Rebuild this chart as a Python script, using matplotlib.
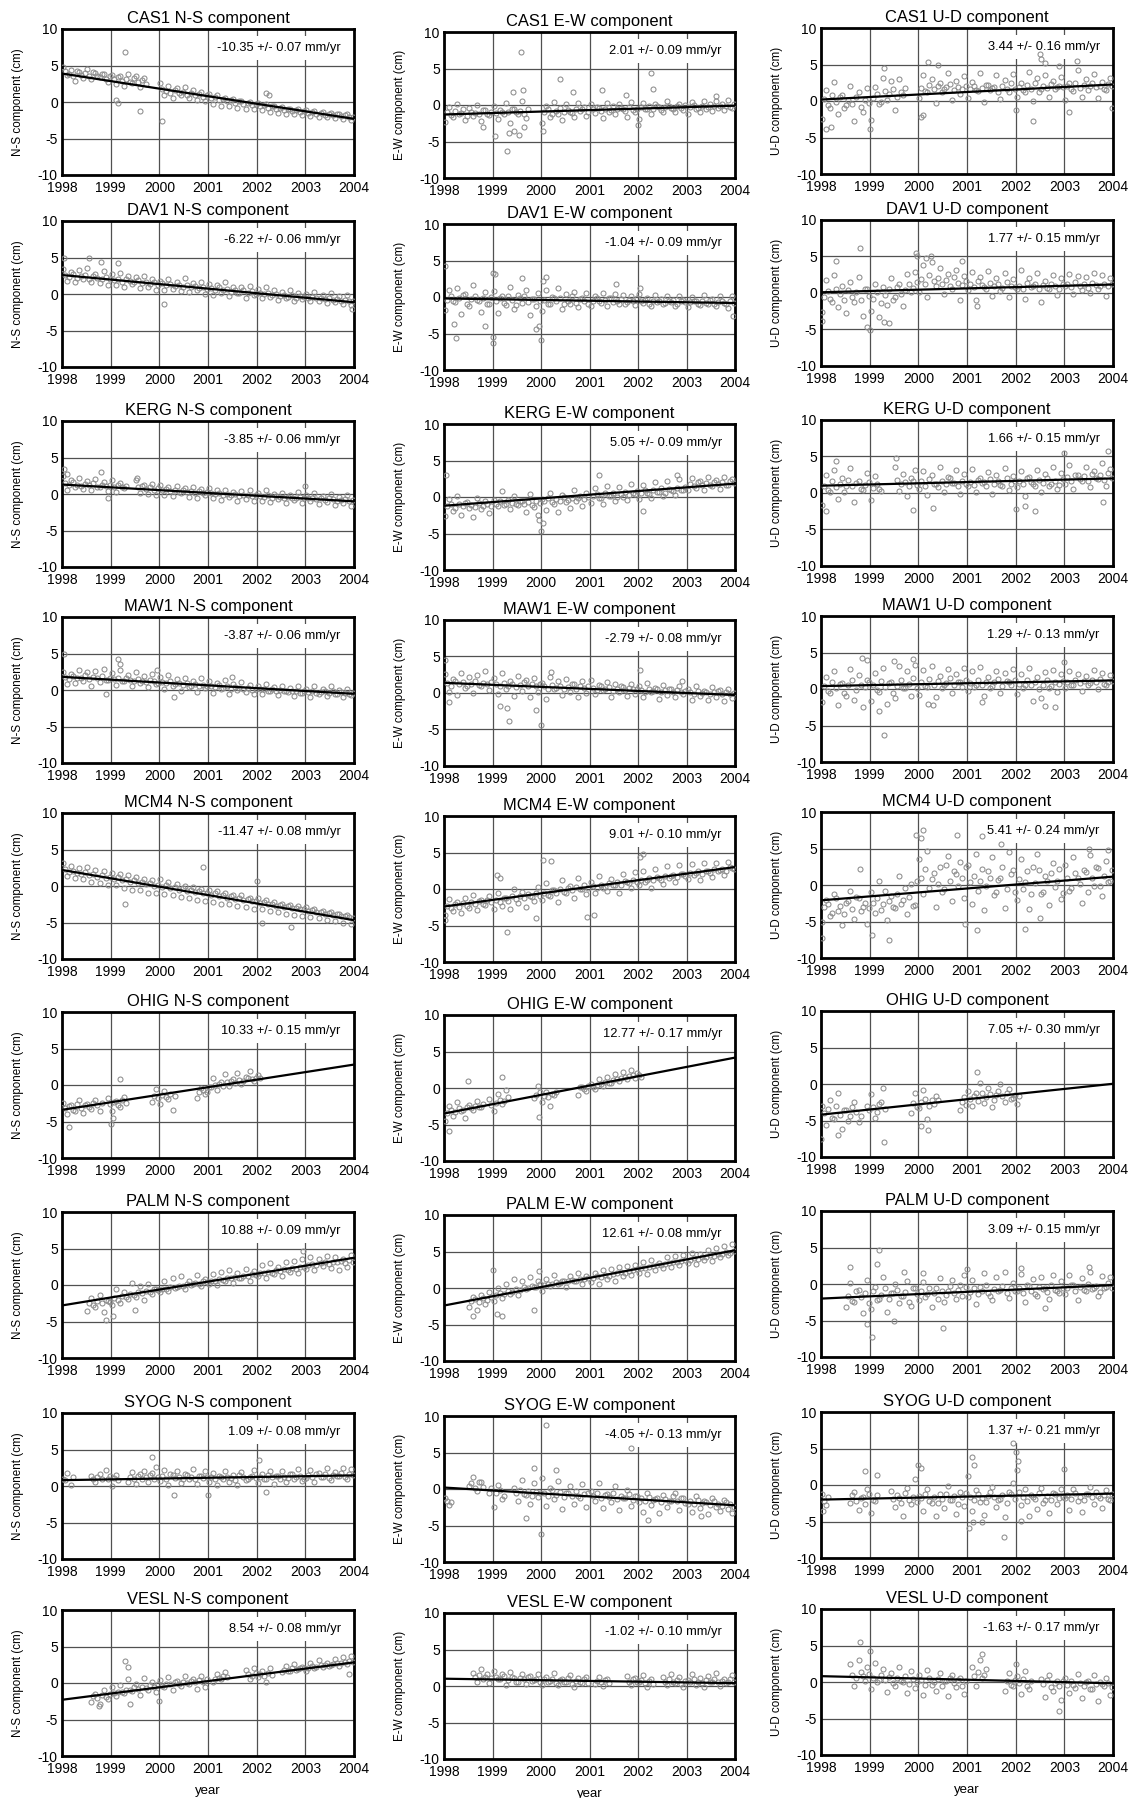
import numpy as np
import matplotlib
matplotlib.use("Agg")
import matplotlib.pyplot as plt

_ = np.nan

stations = ["CAS1", "DAV1", "KERG", "MAW1", "MCM4", "OHIG", "PALM", "SYOG", "VESL"]
components = ["N-S", "E-W", "U-D"]
years = [1998, 1999, 2000, 2001, 2002, 2003, 2004]

# velocidad (mm/yr) y error, por estacion: N-S, E-W, U-D
rates = [
    [-10.35, 2.01, 3.44],
    [-6.22, -1.04, 1.77],
    [-3.85, 5.05, 1.66],
    [-3.87, -2.79, 1.29],
    [-11.47, 9.01, 5.41],
    [10.33, 12.77, 7.05],
    [10.88, 12.61, 3.09],
    [1.09, -4.05, 1.37],
    [8.54, -1.02, -1.63],
]
errors = [
    [0.07, 0.09, 0.16],
    [0.06, 0.09, 0.15],
    [0.06, 0.09, 0.15],
    [0.06, 0.08, 0.13],
    [0.08, 0.10, 0.24],
    [0.15, 0.17, 0.30],
    [0.09, 0.08, 0.15],
    [0.08, 0.13, 0.21],
    [0.08, 0.10, 0.17],
]
# valor de la recta de tendencia en 1998.0 (cm)
line_1998 = [
    [3.9, -1.3, 0.2],
    [2.6, -0.2, 0.1],
    [1.3, -1.2, 1.0],
    [1.8, 1.4, 0.4],
    [2.2, -2.4, -2.1],
    [-3.4, -3.5, -4.2],
    [-2.8, -2.4, -2.0],
    [0.8, 0.2, -2.0],
    [-2.3, 1.0, 0.8],
]

# posiciones (cm) a inicio de cada mes, una fila por anio 1998..2003
cas1_ns = [
    4.8, 3.7, 4.4, 2.9, 4.1, 3.3, 4.5, 3.1, 4.0, 3.4, 3.8, 2.8,
    3.7, 2.5, 3.6, 2.2, 3.9, 2.6, 3.5, 2.1, 3.3, _, _, _,
    2.6, 0.9, 2.2, 0.6, 1.9, 1.0, 2.1, 0.5, 1.6, 0.3, 1.4, 0.2,
    1.1, -0.3, 0.9, -0.5, 0.6, -0.6, 0.4, -0.8, 0.2, -0.9, 0.0, -1.0,
    -0.2, -1.1, -0.3, -1.4, -0.5, -1.5, -0.7, -1.6, -0.9, -1.7, -1.0, -1.8,
    -1.1, -1.9, -1.3, -2.0, -1.4, -2.1, -1.5, -2.2, -1.6, -2.3, -1.7, -2.4,
]
cas1_ew = [
    -2.3, -0.3, -1.7, 0.2, -1.1, -2.0, -0.4, -1.5, 0.0, -2.2, -0.7, -1.4,
    -0.2, -1.9, -0.9, 0.3, -2.4, -0.6, -1.3, 0.5, -1.8, _, _, _,
    -2.4, -0.2, -1.6, 0.4, -1.2, -2.0, 0.1, -0.9, -1.7, 0.3, -0.6, -1.5,
    0.2, -1.1, -0.4, -1.8, 0.3, -0.7, -1.3, 0.1, -0.5, -1.6, 0.4, -0.9,
    -1.9, 0.3, -0.6, -1.2, 0.2, -0.3, -1.0, 0.5, -0.4, -0.9, 0.2, -0.7,
    -1.2, 0.4, -0.5, -0.9, 0.6, -0.3, -0.8, 0.5, -0.2, -0.7, 0.7, -0.4,
]
cas1_ud = [
    -2.5, 1.5, -1.0, 2.6, -1.8, 0.8, -0.5, 2.0, -2.8, 1.2, -1.5, 1.8,
    -2.6, 1.9, -0.4, 3.2, 0.2, 2.8, -1.2, 3.0, 0.8, _, _, _,
    0.4, 3.6, 1.2, 3.0, -0.3, 2.4, 1.6, 3.8, 0.2, 2.7, 1.0, 3.4,
    0.4, 2.6, 1.5, 3.9, -0.2, 2.2, 1.8, 3.5, 0.3, 2.9, 1.2, 3.7,
    0.6, 2.5, 1.3, 4.0, 0.0, 3.1, 1.6, 3.6, 0.5, 2.8, 1.9, 3.3,
    0.2, 2.4, 1.4, 4.2, 0.6, 3.0, 2.0, 3.7, 0.4, 2.6, 1.5, 3.1,
]
dav1_ns = [
    3.4, 1.8, 3.0, 1.6, 3.3, 2.0, 3.5, 1.7, 2.8, 1.5, 3.1, 1.3,
    2.7, 1.2, 2.9, 1.0, 2.5, 1.4, 2.3, 0.8, 2.4, 0.9, 2.0, 0.6,
    1.8, 0.5, 2.1, 0.7, 1.6, 0.4, 2.2, 0.3, 1.5, 0.6, 1.7, 0.0,
    1.4, -0.1, 1.2, 0.2, 1.6, -0.3, 1.0, 0.1, 0.9, -0.5, 1.1, -0.2,
    0.7, -0.6, 0.9, -0.4, 0.5, -0.8, 0.3, -0.5, 0.6, -0.9, 0.2, -0.7,
    0.0, -1.0, 0.3, -0.9, -0.2, -1.2, 0.1, -1.1, -0.3, -1.4, -0.1, -1.5,
]
dav1_ew = [
    -1.8, 0.9, -0.6, 1.3, -2.3, 0.4, -1.2, 1.6, -0.4, -2.0, 0.7, -1.0,
    0.8, -2.2, 0.2, -1.1, 1.4, -1.7, 0.3, -0.8, 1.0, -2.4, -0.3, 0.6,
    -1.9, 0.9, -1.0, -0.2, 1.2, -1.6, 0.4, -0.9, 0.7, -1.4, -0.1, 0.5,
    -1.3, 0.2, -0.6, 0.6, -1.2, -0.1, 0.4, -1.0, 0.3, -0.7, 0.1, -1.1,
    0.4, -0.8, -0.2, -1.3, 0.3, -0.5, -1.0, 0.2, -0.7, -1.2, 0.1, -0.4,
    -1.4, 0.0, -0.6, -1.1, 0.3, -0.9, -0.3, -1.3, 0.2, -0.8, -1.5, 0.1,
]
dav1_ud = [
    -2.6, 1.8, -0.8, 2.4, -1.9, 0.9, -2.8, 1.5, -1.2, 2.2, -3.2, 0.6,
    -2.4, 1.2, -3.3, 0.8, -1.6, 2.0, -0.5, 1.3, -1.8, 2.6, 0.1, 2.9,
    0.2, 3.8, -0.6, 4.2, 1.0, 3.4, -0.2, 2.6, 0.6, 3.1, -0.9, 2.3,
    0.4, 2.9, -1.0, 2.2, 0.8, 3.0, -0.4, 2.0, 0.3, 2.7, -0.6, 1.9,
    0.5, 3.2, -0.8, 2.1, 1.0, 2.8, -1.2, 1.6, 0.6, 2.5, -0.3, 2.0,
    0.9, 2.6, -0.2, 2.3, 0.4, 2.2, 0.0, 2.7, 0.5, 2.4, -0.4, 2.1,
]
kerg_ns = [
    2.4, 0.6, 1.9, 0.9, 2.2, 0.7, 1.8, 0.5, 2.0, 1.0, 1.6, 0.4,
    1.9, 0.3, 1.5, 0.8, _, _, 1.9, 0.2, 1.3, 0.0, 1.4, -0.2,
    1.2, -0.1, 0.9, -0.3, 1.1, 0.1, 0.8, -0.4, 1.0, -0.5, 0.7, -0.2,
    0.8, -0.6, 0.5, -0.8, 0.6, -0.4, 0.3, -0.9, 0.4, -0.7, 0.6, -1.0,
    0.2, -0.9, 0.5, -1.1, 0.0, -0.7, 0.1, -1.2, -0.1, -0.8, 0.3, -1.3,
    -0.2, -1.0, 0.1, -1.4, -0.3, -1.1, 0.0, -1.5, -0.4, -1.2, -0.1, -1.6,
]
kerg_ew = [
    -2.6, -0.3, -1.9, 0.1, -2.4, -0.8, -1.5, -2.8, -0.2, -1.7, -0.6, -2.2,
    -0.4, -1.3, 0.8, -0.9, -1.6, 0.2, -1.1, -0.5, -2.0, 0.4, -1.4, -2.5,
    -0.3, -1.8, 0.6, -1.0, -2.1, 0.3, -0.7, -1.5, 0.9, -0.2, -1.2, 0.5,
    -0.8, 1.2, -0.1, -0.9, 1.5, 0.2, -0.6, 1.4, 0.0, -0.4, 1.8, 0.4,
    -0.3, 1.6, 0.5, -0.2, 2.0, 0.7, 0.1, 2.2, 0.9, 0.3, 2.4, 1.0,
    0.9, 2.6, 1.3, 2.2, 1.0, 2.7, 1.5, 2.3, 1.1, 2.8, 1.6, 2.5,
]
kerg_ud = [
    -1.6, 2.5, 0.2, 3.1, -0.8, 2.0, 1.0, 3.4, -1.2, 1.6, 0.4, 2.8,
    -0.9, 2.3, 0.5, _, _, _, 3.6, 0.3, 2.6, -0.4, 2.0, 3.2,
    0.6, 3.0, -0.3, 2.4, 1.2, 3.5, 0.1, 2.2, 1.4, 3.1, -0.2, 2.6,
    0.9, 3.3, 0.2, 2.0, 1.5, 2.9, -0.1, 2.5, 1.1, 3.4, 0.4, 2.3,
    0.8, 3.0, -0.4, 2.2, 1.3, 3.2, 0.2, 2.6, 1.0, 3.6, 0.5, 2.7,
    1.2, 3.8, 0.6, 2.5, 1.7, 3.5, 0.8, 3.0, 1.9, 4.1, 1.0, 3.3,
]
maw1_ns = [
    2.5, 0.8, 2.2, 1.0, 2.8, 1.3, 2.4, 0.6, 2.6, 1.1, 2.9, 1.4,
    2.3, 0.7, 2.7, 1.2, 2.0, 0.5, 2.4, 0.9, 1.9, 0.4, 2.2, 0.8,
    1.8, 0.2, 2.1, 0.6, 1.5, -0.1, 1.7, 0.4, 1.3, -0.3, 1.6, 0.3,
    1.2, -0.4, 1.0, 0.1, 1.4, -0.5, 0.8, 0.0, 1.1, -0.3, 0.7, -0.6,
    0.6, -0.5, 0.8, -0.2, 0.4, -0.7, 0.6, -0.1, 0.3, -0.8, 0.5, -0.4,
    0.2, -0.9, 0.5, -0.6, 0.1, -0.8, 0.6, -0.5, 0.0, -1.0, 0.2, -0.7,
]
maw1_ew = [
    2.6, 0.2, 1.9, -0.3, 2.8, 0.7, 2.2, 0.0, 2.5, 1.0, 3.0, 0.4,
    2.1, -0.2, 2.7, 0.6, 1.6, -0.4, 2.3, 0.3, 1.8, -0.6, 2.0, 0.1,
    1.4, -0.8, 2.2, 0.5, 1.7, -0.3, 1.9, 0.2, 1.3, -0.5, 1.6, 0.0,
    1.8, -0.2, 1.1, 0.4, 1.5, -0.6, 1.2, 0.1, 0.8, -0.4, 1.3, -0.1,
    1.0, -0.5, 1.4, 0.2, 0.7, -0.8, 1.1, -0.3, 0.6, -0.6, 0.9, -0.2,
    0.5, -0.9, 1.0, -0.4, 0.3, -1.0, 0.8, -0.6, 0.4, -1.1, 0.6, -0.7,
]
maw1_ud = [
    -1.8, 1.6, -0.6, 2.5, -2.2, 0.8, -1.0, 2.8, -1.5, 1.9, -2.4, 1.2,
    -1.7, 2.2, -0.4, 2.9, -2.1, 1.0, -1.2, 3.1, 0.2, 2.4, -0.9, 3.3,
    -0.8, 2.6, 0.3, 3.2, -1.1, 1.8, 0.5, 2.7, -0.6, 2.0, 0.9, 2.9,
    -0.3, 2.4, 0.6, 3.0, -0.9, 1.6, 0.4, 2.5, -0.5, 2.2, 1.0, 2.8,
    -0.7, 2.1, 0.5, 2.9, -1.6, 1.7, -1.2, 2.3, 0.1, 2.6, -0.4, 2.0,
    0.2, 2.4, 0.6, 2.1, -0.3, 1.8, 0.8, 2.6, 0.0, 2.2, 0.5, 1.9,
]
mcm4_ns = [
    3.1, 1.4, 2.8, 1.1, 2.5, 0.9, 2.6, 0.6, 2.2, 0.4, 2.0, 0.2,
    1.8, 0.1, 1.6, -0.3, 1.5, -0.5, 1.2, -0.6, 1.0, -0.9, 0.8, -1.0,
    0.9, -1.1, 0.5, -1.3, 0.3, -1.5, 0.0, -1.7, -0.2, -1.9, -0.4, -2.0,
    -0.5, -2.2, -0.7, -2.4, -0.9, -2.5, -1.2, -2.7, -1.3, -2.9, -1.6, -3.1,
    -1.7, -3.2, -1.9, -3.4, -2.2, -3.6, -2.4, -3.8, -2.6, -4.0, -2.8, -4.1,
    -2.9, -4.2, -3.1, -4.4, -3.4, -4.6, -3.6, -4.8, -3.8, -5.0, -4.0, -5.2,
]
mcm4_ew = [
    -3.5, -1.4, -3.0, -1.8, -3.3, -1.2, -2.6, -0.8, -2.9, -1.5, -2.2, -0.9,
    -2.7, -0.6, -2.3, -1.3, -2.8, 0.0, -1.9, -0.4, -2.5, -0.9, -1.6, 0.3,
    -1.5, 0.8, -1.0, -0.2, -1.8, 1.2, -0.5, 0.4, -1.2, 1.5, 0.0, -0.7,
    1.0, -0.6, 1.8, 0.2, -0.3, 1.4, 0.6, -0.5, 2.0, 0.9, 0.1, 2.3,
    0.6, 2.4, 1.2, 0.2, 2.8, 1.5, 0.7, 3.1, 1.8, 1.0, 3.3, 2.0,
    1.4, 3.4, 2.2, 1.3, 3.5, 2.5, 1.7, 3.6, 2.6, 1.9, 3.7, 2.9,
]
mcm4_ud = [
    -5.0, -2.0, -4.2, -1.2, -3.5, -5.5, -2.4, -0.8, -4.6, -1.8, -3.0, -5.3,
    -1.0, -3.8, 0.5, -2.6, -4.8, -1.5, -3.2, 1.2, -2.0, -4.0, 0.2, -2.8,
    3.5, -1.2, 4.6, 0.8, -3.0, 2.4, -0.6, 4.0, -2.2, 1.5, 3.2, -1.8,
    2.8, -2.6, 4.3, 0.5, -3.4, 1.9, 3.8, -1.0, 0.9, -3.1, 4.5, 2.0,
    -2.0, 3.6, 0.4, -3.3, 2.5, 4.2, -1.3, 1.2, -2.8, 3.0, 0.6, -1.9,
    2.7, -0.8, 3.9, 0.9, -2.4, 1.8, 4.1, -0.2, 2.3, -1.5, 3.3, 0.6,
]
ohig_ns = [
    -2.4, -4.0, -2.8, -3.5, -2.1, -3.9, -2.6, -3.3, -2.0, -3.6, _, -1.8,
    -3.5, -2.2, -3.0, -1.6, _, _, _, _, _, _, -2.3, -0.6,
    -2.6, -0.8, -1.9, -3.4, _, _, _, _, _, -1.8, -0.4, -1.2,
    -0.3, 0.9, -0.7, 0.4, 1.5, -0.1, 0.8, 1.7, 0.2, 1.1, 1.9, 0.5,
    1.4, _, _, _, _, _, _, _, _, _, _, _,
] + [_] * 12
ohig_ew = [
    -4.5, -2.5, -3.8, -1.9, -3.2, -4.1, -2.3, -3.0, -1.8, -2.6, _, -1.5,
    -3.2, -0.8, -2.2, -0.3, _, _, _, _, _, _, -1.4, 0.3,
    -1.9, -0.5, -2.4, -1.0, _, _, _, _, _, -0.9, 0.1, -0.4,
    0.5, -0.2, 1.2, 0.3, 1.5, 0.7, 1.9, 1.0, 2.2, 1.3, 2.5, 1.4,
    1.8, _, _, _, _, _, _, _, _, _, _, _,
] + [_] * 12
ohig_ud = [
    -3.0, -5.6, -2.2, -4.8, -1.2, -6.2, -3.6, -4.4, -2.4, -5.2, _, -3.0,
    -1.4, -4.6, -2.8, -0.6, _, _, _, _, _, _, -4.0, -1.2,
    -3.3, -0.8, -4.8, -2.2, -1.6, _, _, _, _, _, -3.5, -1.8,
    -0.9, -3.0, -1.2, 0.2, -2.6, -0.5, -3.2, -1.5, 0.0, -2.4, -0.7, -1.9,
    -2.8, _, _, _, _, _, _, _, _, _, _, _,
] + [_] * 12
palm_ns = [
    _, _, _, _, _, _, -3.5, -1.8, -3.0, -1.4, -3.7, -2.2,
    -2.8, -0.5, -2.4, -0.9, -1.9, 0.3, -1.6, -0.2, -2.0, 0.1, -1.2, -0.5,
    -1.0, 0.5, -0.8, 0.9, -0.3, 1.2, -0.5, 0.6, 0.1, 1.4, -0.2, 0.8,
    0.2, 1.5, 0.0, 1.8, 0.5, 2.0, 0.3, 1.6, 0.9, 2.2, 0.6, 1.9,
    1.2, 2.8, 1.0, 3.0, 1.5, 2.5, 1.3, 3.1, 1.8, 3.3, 1.6, 3.6,
    2.2, 3.8, 2.0, 3.5, 2.6, 4.0, 2.3, 3.9, 2.1, 3.6, 2.5, 4.1,
]
palm_ew = [
    _, _, _, _, _, _, -2.6, -1.2, -3.0, -0.9, -2.2, -0.6,
    -1.8, 0.0, -1.4, 0.6, -0.8, 1.2, -1.0, 0.9, -0.2, 1.5, 0.2, 1.0,
    -0.4, 1.3, 0.3, 1.8, 0.6, 1.0, 0.2, 1.7, 0.9, 2.0, 0.5, 1.6,
    0.8, 2.1, 0.6, 2.4, 1.3, 2.6, 1.0, 2.9, 1.6, 3.0, 1.8, 3.2,
    2.0, 3.6, 1.9, 3.9, 2.4, 3.4, 2.8, 4.2, 2.9, 4.4, 3.1, 4.5,
    3.4, 4.8, 3.3, 4.6, 3.8, 5.2, 3.7, 5.5, 4.2, 5.8, 4.5, 6.0,
]
palm_ud = [
    _, _, _, _, _, _, -3.2, 0.2, -2.4, -0.8, -4.0, 0.6,
    -3.4, -0.4, -2.0, 1.0, -3.8, -1.2, 0.0, -2.6, -1.6, 0.4, -3.0, -0.6,
    -2.2, 0.3, -1.4, -3.1, -0.5, 0.8, -2.5, -1.0, 0.5, -2.0, -0.2, 1.2,
    -1.8, 0.6, -2.7, -0.4, 1.5, -1.3, -2.2, 0.9, -0.8, 1.6, -1.9, 0.2,
    -1.0, 1.4, -2.4, -0.3, 0.7, -1.6, 1.0, -0.6, -2.1, 1.2, -0.9, 0.4,
    -1.4, 1.3, -0.2, -2.2, 0.8, -1.0, 1.6, -0.5, -1.7, 1.1, -0.4, 0.9,
]
syog_ns = [
    1.0, _, 0.2, _, _, _, _, 1.4, 0.6, 1.7, _, 0.9,
    0.0, 1.5, _, _, 0.6, 1.9, 0.3, 1.6, 2.1, 0.5, 1.8, 2.6,
    0.7, 2.2, 0.2, 1.5, 2.0, 0.4, 1.7, 0.9, 2.3, 0.3, 1.4, 2.0,
    0.5, 1.8, 0.1, 1.3, 2.1, 0.6, 1.5, 0.2, 1.9, 0.8, 1.2, 2.2,
    0.4, 1.7, 0.9, 2.0, 0.3, 1.4, 2.1, 0.6, 1.6, 0.9, 2.3, 0.7,
    1.1, 2.2, 0.5, 1.8, 1.3, 2.4, 0.8, 1.9, 1.4, 2.5, 1.0, 2.3,
]
syog_ew = [
    -1.2, -2.2, _, _, _, _, 0.4, 1.6, -0.3, 0.9, _, -0.6,
    -2.5, 0.5, -1.4, _, _, 0.2, -1.7, 1.2, -0.8, -2.0, 0.8, -1.1,
    1.5, -2.3, 0.2, -1.4, 1.1, -2.8, -0.5, 0.4, -2.0, -0.9, 0.7, -2.4,
    -0.3, -1.6, 0.8, -2.6, -0.7, -1.8, 0.4, -2.9, -1.2, -0.2, -2.3, -0.9,
    -1.8, -3.1, -0.6, -2.2, -1.4, -3.3, -0.8, -2.5, -1.6, -0.5, -2.9, -1.3,
    -2.1, -3.2, -1.0, -2.6, -1.7, -3.4, -1.2, -2.4, -3.0, -1.5, -2.8, -3.3,
]
syog_ud = [
    -1.2, -2.8, _, _, _, _, _, -2.5, -1.0, -3.4, -1.6, -0.5,
    -3.8, -2.2, _, _, _, -0.8, -3.0, -1.8, -4.2, -0.4, -2.6, 0.8,
    -1.5, -3.6, -0.6, -2.4, -4.3, -1.2, -3.1, -0.2, -2.0, -4.0, -1.0, -2.9,
    1.2, -3.5, -0.7, -2.3, -4.1, -1.5, -0.3, -3.0, -1.9, -4.4, -0.9, 0.3,
    2.0, -2.8, -0.6, -4.2, -1.6, -3.3, -0.4, -2.1, -3.8, -1.1, -2.6, -0.5,
    -1.8, -3.4, -0.6, -2.2, -3.7, -1.3, -0.3, -2.6, -1.5, -3.1, -0.7, -2.0,
]
vesl_ns = [
    _, _, _, _, _, _, _, -2.6, -1.5, -2.9, -1.0, -2.2,
    -0.6, -1.8, -0.3, -1.4, 0.5, -1.1, -0.2, -1.6, 0.7, -0.9, 0.2, -1.3,
    0.4, -0.6, 0.8, -0.9, 0.3, -0.4, 0.9, -0.2, 0.6, -0.8, 1.0, -0.5,
    _, 0.2, 1.3, 0.6, 1.5, _, _, _, _, 1.8, 0.5, 2.0,
    0.8, 1.6, 0.2, 2.1, _, _, 1.5, 2.3, 1.7, 2.6, 1.9, 2.2,
    1.6, 2.8, 2.0, 3.1, 2.2, 2.7, 2.5, 3.3, 2.3, 3.5, 2.6, 3.7,
]
vesl_ew = [
    _, _, _, _, _, _, _, 1.8, 0.6, 2.3, 1.2, 0.4,
    2.0, 0.9, 1.6, 0.2, 1.9, 1.1, 0.5, 1.7, 0.3, 1.4, 0.8, 1.6,
    0.2, 1.3, 0.7, 1.8, 0.1, 1.0, 0.6, 1.5, -0.1, 1.1, 0.4, 1.3,
    _, 0.3, 1.2, 0.0, 1.0, _, _, _, _, 1.4, 0.2, 1.1,
    0.5, 1.5, -0.2, 0.9, _, _, 1.3, 0.1, 1.6, 0.4, 1.2, -0.1,
    0.8, 1.7, 0.2, 1.1, -0.2, 1.4, 0.5, 1.8, 0.0, 1.0, 0.6, 1.5,
]
vesl_ud = [
    _, _, _, _, _, _, _, 2.5, -0.5, 3.0, 0.8, 2.0,
    -1.0, 2.6, 0.3, 1.8, -1.4, 1.2, -0.6, 2.1, 0.0, -1.5, 1.5, -0.8,
    0.9, -1.8, 1.6, -0.4, -1.3, 1.2, 0.2, -1.9, 1.0, -0.7, 0.5, -1.6,
    _, 2.0, -0.5, 3.0, 1.0, _, _, _, _, -1.2, 1.3, -0.6,
    0.8, -1.7, 1.5, -0.9, _, _, 0.4, -2.0, 1.0, -1.2, 0.2, -2.4,
    0.6, -1.5, -0.4, 1.1, -2.2, 0.0, -1.0, 0.9, -2.6, -0.3, 0.5, -1.8,
]

# segunda lectura de cada mes (mitad de mes), parte central de la nube
cas1_ns_b = [
    4.2, 3.9, 3.5, 4.3, 3.7, 4.0, 3.6, 4.1, 3.5, 3.8, 3.2, 3.6,
    3.1, 3.4, 2.9, 3.2, 2.8, 3.3, 2.7, 3.0, 2.5, _, _, _,
    1.8, 1.5, 1.3, 1.6, 1.2, 1.4, 1.0, 1.3, 0.9, 1.1, 0.7, 0.9,
    0.5, 0.7, 0.3, 0.4, 0.1, 0.3, -0.1, 0.2, -0.3, -0.2, -0.4, -0.3,
    -0.6, -0.4, -0.8, -0.6, -1.0, -0.8, -1.1, -0.9, -1.2, -1.1, -1.4, -1.2,
    -1.5, -1.4, -1.6, -1.5, -1.8, -1.6, -1.8, -1.7, -1.9, -1.8, -2.0, -2.0,
]
cas1_ew_b = [
    -1.0, -1.4, -0.8, -1.2, -0.6, -1.5, -0.9, -1.1, -1.3, -0.7, -1.2, -0.9,
    -1.1, -0.7, -1.3, -0.9, -0.5, -1.0, -0.8, -1.2, -0.6, _, _, _,
    -1.0, -0.6, -1.2, -0.8, -0.4, -0.9, -0.7, -1.1, -0.5, -0.8, -0.3, -0.9,
    -0.6, -0.3, -0.8, -0.5, -0.9, -0.2, -0.6, -0.4, -0.8, -0.3, -0.7, -0.5,
    -0.3, -0.6, -0.1, -0.5, -0.2, -0.7, -0.3, -0.1, -0.6, -0.2, -0.4, 0.0,
    -0.3, 0.0, -0.4, -0.1, -0.5, 0.1, -0.2, -0.4, 0.2, -0.1, -0.3, 0.1,
]
cas1_ud_b = [
    0.3, -0.6, 0.8, -0.2, 0.5, -1.0, 0.1, -0.4, 0.6, -0.8, 0.2, -0.3,
    0.4, 1.0, -0.2, 1.4, 0.9, 1.6, 0.6, 1.2, 1.8, _, _, _,
    1.8, 1.4, 2.2, 1.6, 2.0, 1.2, 1.9, 2.3, 1.5, 1.9, 1.7, 2.1,
    1.6, 2.0, 1.4, 1.8, 2.2, 1.5, 1.9, 1.3, 2.1, 1.7, 2.4, 1.6,
    1.9, 1.5, 2.2, 1.7, 2.4, 1.3, 2.0, 1.8, 2.3, 1.6, 2.1, 1.9,
    2.0, 1.6, 2.4, 1.8, 2.2, 1.5, 2.5, 1.9, 2.1, 1.7, 2.3, 2.0,
]
dav1_ns_b = [
    2.6, 2.3, 2.7, 2.2, 2.5, 2.6, 2.1, 2.4, 2.2, 2.0, 2.3, 2.1,
    1.9, 2.1, 1.7, 2.0, 1.8, 1.6, 1.9, 1.5, 1.7, 1.4, 1.6, 1.3,
    1.5, 1.2, 1.4, 1.1, 1.3, 1.0, 1.2, 0.9, 1.1, 0.8, 1.0, 0.7,
    0.8, 0.6, 0.9, 0.5, 0.7, 0.3, 0.6, 0.2, 0.5, 0.1, 0.4, 0.0,
    0.2, 0.0, 0.1, -0.2, 0.0, -0.3, -0.1, -0.4, -0.2, -0.5, -0.3, -0.4,
    -0.5, -0.4, -0.6, -0.5, -0.7, -0.6, -0.8, -0.7, -0.9, -0.8, -1.0, -1.0,
]
dav1_ew_b = [
    -0.4, 0.1, -0.7, -0.2, 0.3, -0.9, -0.3, 0.2, -0.6, -0.1, -1.0, 0.0,
    -0.5, -0.1, -0.8, 0.2, -0.4, -1.1, -0.2, 0.1, -0.7, -0.3, -1.2, -0.5,
    -0.4, -0.9, 0.0, -0.6, -0.2, -1.0, -0.5, 0.1, -0.8, -0.3, -0.6, -0.9,
    -0.5, -0.2, -0.8, -0.4, -0.1, -0.7, -0.5, -0.3, -0.9, -0.4, -0.6, -0.2,
    -0.6, -0.4, -0.9, -0.5, -0.7, -0.3, -0.8, -0.6, -0.4, -0.9, -0.5, -0.7,
    -0.7, -0.5, -1.0, -0.6, -0.8, -0.4, -0.9, -0.7, -0.5, -1.0, -0.6, -0.8,
]
dav1_ud_b = [
    -0.5, 0.3, -1.2, 0.6, -0.2, -0.9, 0.4, -0.6, 0.1, -1.0, 0.5, -0.4,
    -0.8, 0.2, -1.4, -0.3, 0.5, -0.9, 0.8, -0.1, 0.4, 1.2, 0.7, 1.5,
    1.9, 1.2, 2.4, 1.6, 2.0, 1.3, 1.8, 1.0, 2.2, 1.4, 1.1, 1.6,
    1.3, 0.8, 1.6, 1.1, 0.6, 1.4, 0.9, 1.2, 0.7, 1.5, 1.0, 0.8,
    1.0, 0.6, 1.4, 0.8, 1.2, 0.5, 1.1, 0.7, 1.3, 0.9, 0.6, 1.2,
    1.2, 0.8, 1.5, 1.0, 1.3, 0.7, 1.4, 1.1, 0.9, 1.3, 1.0, 1.2,
]
kerg_ns_b = [
    1.5, 1.2, 1.6, 1.3, 1.1, 1.4, 1.2, 1.5, 1.0, 1.3, 1.1, 1.2,
    1.0, 1.2, 0.9, 1.1, _, _, 0.9, 1.1, 0.7, 0.9, 0.6, 0.8,
    0.6, 0.7, 0.4, 0.6, 0.3, 0.5, 0.3, 0.4, 0.2, 0.4, 0.1, 0.3,
    0.2, 0.0, 0.1, -0.1, 0.0, -0.2, 0.0, -0.3, -0.1, -0.2, -0.3, -0.2,
    -0.3, -0.4, -0.2, -0.5, -0.3, -0.4, -0.5, -0.4, -0.6, -0.5, -0.4, -0.6,
    -0.6, -0.5, -0.7, -0.6, -0.8, -0.6, -0.7, -0.9, -0.8, -0.7, -0.9, -0.8,
]
kerg_ew_b = [
    -1.2, -0.9, -1.5, -1.0, -1.3, -0.7, -1.1, -1.4, -0.8, -1.2, -1.0, -1.3,
    -0.9, -0.6, -1.1, -0.4, -0.8, -1.0, -0.5, -0.9, -0.7, -1.1, -0.6, -0.8,
    -0.5, -0.2, -0.7, -0.3, -0.6, 0.0, -0.4, -0.1, -0.5, 0.1, -0.3, 0.0,
    0.1, 0.4, -0.1, 0.5, 0.2, 0.6, 0.0, 0.4, 0.7, 0.3, 0.5, 0.8,
    0.6, 0.9, 0.4, 1.0, 0.7, 1.2, 0.5, 1.1, 0.8, 1.3, 0.9, 1.4,
    1.8, 1.5, 2.0, 1.7, 1.9, 1.6, 2.1, 1.8, 2.0, 1.7, 2.2, 1.9,
]
kerg_ud_b = [
    1.0, 0.4, 1.6, 0.8, 1.3, 0.2, 1.8, 0.9, 1.4, 0.6, 1.1, 1.5,
    0.7, 1.2, 0.3, _, _, _, 1.8, 1.2, 1.5, 0.9, 1.7, 1.1,
    1.6, 1.0, 1.9, 1.3, 0.8, 1.7, 1.2, 2.0, 1.4, 0.9, 1.6, 1.3,
    1.5, 1.1, 1.8, 1.4, 0.9, 1.9, 1.2, 1.6, 1.0, 2.0, 1.3, 1.7,
    1.6, 1.2, 2.0, 1.5, 1.0, 1.8, 1.4, 2.1, 1.3, 1.7, 1.1, 1.9,
    2.2, 1.7, 2.5, 1.9, 2.3, 1.6, 2.6, 2.0, 2.4, 1.8, 2.7, 2.1,
]
maw1_ns_b = [
    1.8, 1.5, 1.9, 1.6, 1.7, 2.0, 1.5, 1.8, 1.6, 1.9, 1.4, 1.7,
    1.5, 1.7, 1.3, 1.6, 1.4, 1.2, 1.5, 1.3, 1.1, 1.4, 1.2, 1.0,
    1.1, 0.9, 1.2, 0.8, 1.0, 0.7, 0.9, 0.6, 0.8, 0.5, 0.7, 0.5,
    0.6, 0.4, 0.7, 0.3, 0.5, 0.2, 0.4, 0.3, 0.1, 0.3, 0.0, 0.2,
    0.1, 0.2, -0.1, 0.1, -0.2, 0.0, -0.1, -0.3, -0.1, -0.2, -0.4, -0.2,
    -0.3, -0.2, -0.4, -0.3, -0.1, -0.4, -0.2, -0.5, -0.3, -0.4, -0.6, -0.4,
]
maw1_ew_b = [
    1.4, 1.0, 1.6, 1.2, 1.5, 0.9, 1.3, 1.7, 1.1, 1.4, 1.2, 1.5,
    1.2, 0.9, 1.4, 1.0, 1.3, 0.8, 1.1, 1.5, 0.9, 1.2, 1.0, 1.3,
    0.9, 0.6, 1.1, 0.7, 1.0, 0.5, 0.8, 1.2, 0.6, 0.9, 0.7, 1.0,
    0.7, 0.4, 0.9, 0.5, 0.8, 0.3, 0.6, 0.9, 0.4, 0.7, 0.5, 0.6,
    0.4, 0.2, 0.6, 0.3, 0.5, 0.1, 0.4, 0.6, 0.2, 0.4, 0.1, 0.3,
    0.2, -0.1, 0.3, 0.0, 0.2, -0.2, 0.1, 0.3, -0.1, 0.1, -0.2, 0.0,
]
maw1_ud_b = [
    0.4, -0.3, 1.0, 0.2, 0.7, -0.5, 0.5, 1.2, -0.1, 0.6, 0.3, 0.9,
    0.5, -0.2, 1.1, 0.3, 0.8, -0.6, 0.4, 1.3, 0.1, 0.7, 1.5, 0.2,
    0.9, 0.4, 1.4, 0.6, 1.1, 0.2, 0.8, 1.5, 0.5, 1.0, 0.3, 1.2,
    0.8, 0.3, 1.3, 0.6, 1.0, 0.1, 0.9, 1.4, 0.4, 1.1, 0.5, 1.2,
    0.7, 0.2, 1.2, 0.5, 0.9, 0.0, 0.6, 1.3, 0.4, 1.0, 0.7, 1.1,
    1.0, 0.6, 1.3, 0.8, 1.1, 0.5, 1.2, 0.9, 1.4, 0.7, 1.0, 1.1,
]
mcm4_ns_b = [
    2.3, 1.9, 2.1, 1.8, 1.6, 1.9, 1.5, 1.7, 1.3, 1.5, 1.1, 1.3,
    1.0, 1.2, 0.8, 1.0, 0.6, 0.8, 0.4, 0.6, 0.3, 0.4, 0.0, 0.2,
    -0.1, 0.1, -0.3, -0.1, -0.5, -0.3, -0.7, -0.5, -0.8, -0.7, -1.0, -0.9,
    -1.2, -1.0, -1.4, -1.2, -1.6, -1.4, -1.8, -1.6, -1.9, -1.8, -2.1, -2.0,
    -2.3, -2.2, -2.5, -2.4, -2.7, -2.6, -2.9, -2.8, -3.0, -3.0, -3.2, -3.2,
    -3.4, -3.3, -3.6, -3.5, -3.8, -3.7, -4.0, -3.9, -4.1, -4.1, -4.3, -4.4,
]
mcm4_ew_b = [
    -2.3, -2.6, -2.1, -2.4, -1.9, -2.3, -1.8, -2.1, -1.7, -2.0, -1.5, -1.8,
    -1.5, -1.8, -1.2, -1.6, -1.0, -1.4, -0.9, -1.3, -0.7, -1.1, -0.5, -0.9,
    -0.5, -0.8, -0.2, -0.6, 0.0, -0.4, 0.2, -0.2, 0.3, 0.0, 0.5, 0.2,
    0.4, 0.1, 0.6, 0.3, 0.8, 0.5, 0.9, 0.6, 1.1, 0.8, 1.2, 0.9,
    1.3, 1.0, 1.5, 1.2, 1.6, 1.3, 1.8, 1.5, 1.9, 1.6, 2.1, 1.8,
    2.2, 1.9, 2.4, 2.1, 2.5, 2.2, 2.7, 2.4, 2.8, 2.5, 3.0, 2.7,
]
mcm4_ud_b = [
    -3.0, -2.6, -3.8, -1.8, -2.9, -4.0, -2.2, -3.3, -1.6, -3.6, -2.5, -3.1,
    -2.4, -1.8, -3.4, -0.8, -2.2, -3.0, -1.2, -2.6, -0.4, -1.6, -2.9, 0.6,
    1.0, 2.2, -0.4, 1.6, 0.2, -1.0, 2.8, 0.6, 1.9, -0.2, 0.9, 2.5,
    0.4, 1.3, -0.8, 2.2, -0.2, 1.0, -1.4, 0.7, 2.4, -0.5, 1.5, -1.0,
    0.8, -0.6, 1.9, -1.2, 0.3, 2.0, -0.9, 0.5, 1.6, -0.3, 2.2, -1.1,
    0.9, -0.4, 1.7, 0.1, 2.1, -0.9, 1.0, 2.4, -0.1, 1.3, 0.4, 2.0,
]
ohig_ns_b = [
    -3.2, -2.9, -3.4, -2.6, -3.1, -2.7, -3.0, -2.5, -2.8, -2.4, _, -2.6,
    -2.3, -2.7, -2.0, -2.4, _, _, _, _, _, _, -1.5, -1.8,
    -1.4, -1.7, -1.2, -1.5, _, _, _, _, _, -1.0, -0.7, -0.9,
    -0.3, 0.0, 0.2, -0.1, 0.4, 0.6, 0.3, 0.7, 0.5, 0.9, 0.8, 1.0,
    0.9, _, _, _, _, _, _, _, _, _, _, _,
] + [_] * 12
ohig_ew_b = [
    -3.4, -3.0, -3.3, -2.7, -3.0, -2.6, -2.8, -2.4, -2.6, -2.2, _, -2.3,
    -2.1, -1.6, -1.8, -1.3, _, _, _, _, _, _, -0.9, -0.6,
    -1.1, -1.3, -0.8, -0.6, _, _, _, _, _, 0.1, -0.2, 0.3,
    0.1, 0.4, 0.6, 0.8, 0.7, 1.1, 1.2, 1.4, 1.5, 1.7, 1.8, 2.0,
    1.5, _, _, _, _, _, _, _, _, _, _, _,
] + [_] * 12
ohig_ud_b = [
    -4.0, -3.4, -4.6, -3.0, -4.2, -3.6, -5.0, -3.2, -3.9, -4.4, _, -3.5,
    -3.2, -3.8, -2.4, -3.4, _, _, _, _, _, _, -2.6, -3.1,
    -2.4, -2.0, -3.0, -2.7, -2.2, _, _, _, _, _, -2.5, -2.9,
    -2.0, -1.6, -2.3, -1.2, -1.8, -1.4, -2.2, -1.0, -1.7, -1.3, -2.0, -1.5,
    -1.6, _, _, _, _, _, _, _, _, _, _, _,
] + [_] * 12
palm_ns_b = [
    _, _, _, _, _, _, -2.5, -2.8, -2.2, -2.5, -2.0, -2.3,
    -1.8, -2.0, -1.5, -1.7, -1.2, -1.4, -1.0, -1.1, -0.8, -0.9, -0.6, -0.7,
    -0.5, -0.6, -0.3, -0.4, -0.1, -0.2, 0.1, 0.0, 0.3, 0.2, 0.5, 0.4,
    0.6, 0.5, 0.8, 0.7, 1.0, 0.9, 1.1, 1.0, 1.3, 1.2, 1.5, 1.4,
    1.7, 1.6, 1.8, 1.7, 2.0, 1.9, 2.2, 2.1, 2.3, 2.2, 2.5, 2.4,
    2.7, 2.9, 2.8, 3.0, 3.1, 2.9, 3.2, 3.1, 3.3, 3.0, 3.4, 3.2,
]
palm_ew_b = [
    _, _, _, _, _, _, -1.8, -1.5, -1.9, -1.4, -1.6, -1.2,
    -1.0, -0.7, -0.8, -0.4, -0.5, -0.1, -0.3, 0.1, 0.0, 0.3, 0.2, 0.5,
    0.4, 0.6, 0.5, 0.8, 0.7, 1.0, 0.9, 1.1, 1.0, 1.3, 1.2, 1.4,
    1.4, 1.6, 1.5, 1.8, 1.7, 1.9, 2.0, 2.2, 2.1, 2.3, 2.4, 2.6,
    2.7, 2.8, 2.9, 3.0, 3.1, 3.2, 3.3, 3.4, 3.5, 3.6, 3.7, 3.8,
    3.9, 4.1, 4.0, 4.3, 4.2, 4.5, 4.4, 4.7, 4.6, 4.9, 4.8, 5.1,
]
palm_ud_b = [
    _, _, _, _, _, _, -1.6, -2.3, -0.9, -1.8, -1.2, -2.6,
    -1.0, -2.2, -1.5, -0.6, -2.0, -1.3, -0.8, -1.7, -1.1, -2.4, -0.5, -1.4,
    -1.0, -1.8, -0.6, -1.3, -2.1, -0.9, -1.5, -0.3, -1.2, -0.8, -1.6, -0.4,
    -1.1, -0.5, -1.4, -0.9, -0.2, -1.6, -0.7, -1.0, -0.3, -1.2, -0.6, -0.9,
    -0.5, -1.2, -0.2, -0.9, -1.4, -0.4, -0.7, -1.1, -0.1, -0.8, -1.3, -0.5,
    -0.6, -0.2, -1.0, -0.4, -0.8, 0.0, -0.7, -0.3, -1.1, -0.5, 0.1, -0.6,
]
syog_ns_b = [
    0.8, _, 1.2, _, _, _, _, 0.9, 1.3, 1.0, _, 1.4,
    1.1, 0.8, _, _, 1.3, 1.0, 1.4, 0.9, 1.2, 1.5, 1.0, 1.3,
    1.4, 1.0, 1.6, 1.1, 1.3, 0.9, 1.5, 1.2, 1.0, 1.4, 1.1, 1.3,
    1.2, 0.9, 1.4, 1.0, 1.3, 1.1, 0.8, 1.5, 1.2, 1.0, 1.4, 1.1,
    1.3, 1.0, 1.5, 1.2, 1.4, 0.9, 1.3, 1.1, 1.6, 1.2, 1.4, 1.0,
    1.5, 1.2, 1.7, 1.3, 1.6, 1.1, 1.5, 1.4, 1.8, 1.3, 1.6, 1.5,
]
syog_ew_b = [
    -1.6, -1.8, _, _, _, _, 0.8, 0.2, 0.9, 0.3, _, 0.1,
    -0.6, -0.2, -1.0, _, _, -0.5, -0.1, -0.7, -0.3, -0.9, -0.4, -0.6,
    -0.5, -1.0, -0.2, -0.8, -0.4, -1.1, -0.6, -0.9, -0.3, -1.2, -0.7, -0.5,
    -1.0, -0.6, -1.3, -0.8, -1.1, -0.5, -1.4, -0.9, -1.2, -0.7, -1.5, -1.0,
    -1.3, -1.6, -1.1, -1.5, -1.2, -1.8, -1.4, -1.7, -1.0, -1.6, -1.3, -1.9,
    -1.7, -2.0, -1.5, -1.9, -1.8, -2.2, -1.6, -2.1, -2.3, -1.8, -2.0, -2.4,
]
syog_ud_b = [
    -2.2, -1.6, _, _, _, _, _, -1.4, -2.2, -1.8, -2.6, -1.2,
    -2.0, -1.4, _, _, _, -1.9, -1.4, -2.5, -1.1, -2.1, -1.6, -2.3,
    -1.8, -1.2, -2.2, -1.6, -2.4, -1.9, -1.3, -2.0, -1.5, -2.6, -1.7, -1.1,
    -1.6, -2.1, -1.3, -1.8, -2.3, -1.0, -1.7, -2.0, -1.4, -2.4, -1.2, -1.9,
    -1.0, -1.7, -2.2, -1.4, -1.9, -1.1, -2.4, -1.5, -2.0, -1.3, -1.8, -1.6,
    -1.4, -1.9, -1.1, -1.6, -2.0, -1.2, -1.7, -1.0, -1.8, -1.4, -1.9, -1.3,
]
vesl_ns_b = [
    _, _, _, _, _, _, _, -1.8, -2.1, -1.7, -1.9, -1.5,
    -1.4, -1.2, -1.3, -0.9, -1.0, -0.6, -0.8, -0.5, -0.7, -0.3, -0.5, -0.2,
    -0.4, -0.1, -0.2, 0.1, -0.1, 0.2, 0.0, 0.3, 0.1, 0.4, 0.2, 0.5,
    _, 0.5, 0.7, 0.9, 0.8, _, _, _, _, 1.2, 1.0, 1.4,
    1.2, 1.0, 1.4, 1.1, _, _, 1.8, 1.6, 2.0, 1.8, 2.1, 2.0,
    2.1, 2.3, 2.2, 2.4, 2.5, 2.3, 2.6, 2.8, 2.7, 2.9, 3.0, 2.9,
]
vesl_ew_b = [
    _, _, _, _, _, _, _, 1.2, 1.5, 0.9, 1.7, 1.1,
    1.3, 1.0, 1.4, 0.8, 1.2, 0.6, 1.1, 0.9, 1.3, 0.7, 1.0, 0.5,
    0.9, 0.6, 1.0, 0.4, 0.8, 0.5, 1.1, 0.3, 0.7, 0.6, 0.9, 0.4,
    _, 0.7, 0.5, 0.8, 0.4, _, _, _, _, 0.6, 0.9, 0.5,
    0.8, 0.4, 0.7, 0.3, _, _, 0.6, 0.9, 0.5, 0.8, 0.3, 0.7,
    0.5, 0.9, 0.6, 0.4, 0.8, 0.6, 1.0, 0.5, 0.7, 0.4, 0.9, 0.6,
]
vesl_ud_b = [
    _, _, _, _, _, _, _, 1.0, 0.5, 1.4, 0.2, 1.1,
    0.6, 0.0, 0.9, 0.3, 0.7, -0.2, 0.5, 0.1, 0.8, -0.3, 0.4, 0.0,
    0.3, -0.4, 0.5, 0.0, 0.4, -0.5, 0.2, 0.6, -0.2, 0.3, -0.6, 0.1,
    _, 0.8, 1.4, 0.5, 1.8, _, _, _, _, 0.2, -0.4, 0.3,
    -0.2, 0.4, -0.6, 0.1, _, _, -0.3, 0.3, -0.7, -0.1, -0.5, 0.2,
    -0.4, 0.1, -0.8, -0.2, -0.5, 0.2, -0.9, -0.3, 0.0, -0.6, -0.2, -0.7,
]

# puntos sueltos (anio, cm)
cas1_ns_out = [(1999.3, 6.8), (1999.1, 0.3), (1999.15, -0.2), (1999.6, -1.3), (2000.05, -2.6), (2002.2, 1.2), (2002.25, 1.0)]
cas1_ew_out = [(1998.8, -3.0), (1999.05, -4.2), (1999.3, -6.3), (1999.33, -3.8), (1999.42, 1.8), (1999.45, -3.5),
               (1999.55, -4.1), (1999.58, 7.2), (1999.62, 2.0), (1999.64, -3.0), (2000.05, -3.5), (2000.4, 3.6),
               (2000.65, 1.8), (2001.25, 2.1), (2001.75, 1.4), (2002.0, -2.8), (2002.27, 4.4), (2002.3, 2.2), (2003.6, 1.2)]
cas1_ud_out = [(1998.1, -3.8), (1998.2, -3.6), (1999.0, -3.8), (1999.3, 4.5), (2000.05, -2.2), (2000.1, -1.9),
               (2000.2, 5.3), (2000.4, 5.0), (2002.0, -1.3), (2002.35, -2.7), (2002.5, 6.5), (2002.52, 5.8),
               (2002.6, 5.2), (2002.9, 4.8), (2003.1, -1.5), (2003.25, 5.5), (2003.98, -1.0)]
dav1_ns_out = [(1998.05, 4.9), (1998.55, 5.0), (1998.8, 4.4), (1999.15, 4.3), (2000.1, -1.4), (2003.95, -2.1)]
dav1_ew_out = [(1998.02, 4.2), (1998.2, -3.7), (1998.25, -5.6), (1999.0, 3.3), (1999.05, 3.1), (1999.0, -5.5),
               (1999.02, -6.3), (1998.85, -4.0), (1999.6, 2.6), (1999.9, -4.4), (1999.95, -4.0), (2000.0, -5.9),
               (2000.1, 2.8), (2000.05, 2.2), (2001.55, 1.8), (2002.05, 1.3), (2003.95, -2.6)]
dav1_ud_out = [(1998.02, -3.9), (1998.3, 4.4), (1998.8, 6.1), (1999.0, -5.1), (1998.95, -4.6), (1999.3, -4.0),
               (1999.4, -4.1), (1999.95, 5.5), (1999.97, 5.0), (2000.15, 4.8), (2000.25, 5.0), (2000.9, 4.4), (2001.2, -1.8)]
kerg_ns_out = [(1998.05, 3.4), (1998.1, 2.8), (1998.8, 3.0), (1998.95, -0.5), (1999.55, 2.2), (2003.0, 1.1)]
kerg_ew_out = [(1998.05, 3.0), (1999.95, -3.2), (2000.0, -4.7), (2000.05, -3.5), (2001.2, 3.0), (2002.1, -1.9), (2002.8, 3.0)]
kerg_ud_out = [(1998.1, -2.5), (1998.3, 4.4), (1999.55, 4.8), (1999.9, -2.3), (2000.3, -2.0), (2002.0, -2.2),
               (2002.2, -1.8), (2002.4, -2.5), (2003.0, 5.5), (2003.8, -1.3), (2003.9, 5.7)]
maw1_ns_out = [(1998.05, 5.0), (1998.9, -0.5), (1999.15, 4.2), (1999.2, 3.6), (1999.95, 2.7), (2000.3, -1.0), (2001.5, 1.8)]
maw1_ew_out = [(1998.02, 4.5), (1998.1, -1.3), (1999.15, -1.8), (1999.3, -2.0), (1999.35, -3.8), (1999.9, -2.3),
               (2000.0, -4.4), (2000.2, 2.9), (2002.05, 3.2), (2002.9, 1.6)]
maw1_ud_out = [(1998.85, 4.2), (1998.95, 4.0), (1999.2, -3.0), (1999.3, -6.3), (1999.5, 3.9), (1999.9, 4.1),
               (2000.2, -2.0), (2000.3, -2.2), (2001.3, -1.8), (2002.6, -2.3), (2002.8, -2.5), (2003.0, 3.7)]
mcm4_ns_out = [(1999.3, -2.4), (2000.9, 2.6), (2002.0, 0.7), (2002.7, -5.6), (2002.1, -5.0)]
mcm4_ew_out = [(1998.02, -4.2), (1999.1, 1.9), (1999.15, 1.5), (1999.3, -5.9), (1999.9, -4.0), (2000.05, 4.0),
               (2000.2, 3.8), (2000.95, -3.8), (2001.1, -3.6), (2002.1, 4.8), (2002.05, 4.4)]
mcm4_ud_out = [(1998.02, -7.3), (1998.8, 2.2), (1999.05, -6.8), (1999.4, -7.6), (1999.95, 6.8), (2000.1, 7.6),
               (2000.05, 6.5), (2000.8, 6.8), (2000.95, -5.3), (2001.2, -6.1), (2001.3, 6.7), (2001.7, 5.6),
               (2002.2, -6.0), (2002.5, -4.5), (2003.5, 5.0), (2003.9, 4.8)]
ohig_ns_out = [(1998.15, -5.8), (1999.0, -5.4), (1999.2, 0.8), (1999.05, -4.5)]
ohig_ew_out = [(1998.1, -5.9), (1998.5, 1.0), (1999.2, 1.5), (1999.95, -4.0)]
ohig_ud_out = [(1998.0, -7.5), (1998.35, -7.0), (1999.3, -8.0), (2000.05, -5.8), (2000.2, -6.3), (2001.2, 1.7)]
palm_ns_out = [(1998.9, -4.8), (1999.05, -4.3), (1999.5, -3.4), (2002.95, 4.6)]
palm_ew_out = [(1998.6, -3.9), (1999.1, -3.5), (1999.2, -3.9), (1999.0, 2.5), (1999.85, -3.0), (1999.95, 2.3)]
palm_ud_out = [(1998.6, 2.3), (1998.95, -5.5), (1999.05, -7.3), (1999.2, 4.6), (1999.15, 2.7), (1999.5, -5.0),
               (1999.7, 1.6), (2000.1, 1.5), (2000.5, -6.0), (2001.0, 2.0), (2002.1, 2.2), (2002.6, -3.3), (2003.5, 2.3)]
syog_ns_out = [(1998.1, 1.8), (1998.9, 2.2), (1999.85, 4.0), (2000.3, -1.2), (2001.0, -1.2), (2002.05, 3.6), (2002.2, -0.8)]
syog_ew_out = [(1999.85, 2.9), (2000.1, 8.7), (2000.0, -6.2), (2000.3, 2.6), (1999.7, -4.0), (2001.85, 5.6),
               (2003.3, -3.7), (2002.2, -4.2)]
syog_ud_out = [(1998.05, -3.6), (1998.9, 1.9), (1999.15, 1.4), (2000.0, 2.8), (2000.05, 2.3), (2001.1, 3.9),
               (2001.15, 2.8), (2001.05, -5.9), (2001.12, -5.1), (2001.3, -5.0), (2001.75, -7.1), (2001.95, 5.8),
               (2002.0, 4.5), (2002.05, 3.3), (2003.0, 2.2), (2002.1, -4.9)]
vesl_ns_out = [(1998.75, -3.2), (1999.3, 3.0), (1999.35, 2.2), (1999.4, -2.9), (2000.0, -2.5), (2003.9, 1.3)]
vesl_ew_out = []
vesl_ud_out = [(1998.8, 5.5), (1999.0, 4.2), (2001.3, 3.8), (2002.9, -4.0), (2002.0, 2.5)]

series = [
    [cas1_ns, cas1_ew, cas1_ud], [dav1_ns, dav1_ew, dav1_ud], [kerg_ns, kerg_ew, kerg_ud],
    [maw1_ns, maw1_ew, maw1_ud], [mcm4_ns, mcm4_ew, mcm4_ud], [ohig_ns, ohig_ew, ohig_ud],
    [palm_ns, palm_ew, palm_ud], [syog_ns, syog_ew, syog_ud], [vesl_ns, vesl_ew, vesl_ud],
]
series_b = [
    [cas1_ns_b, cas1_ew_b, cas1_ud_b], [dav1_ns_b, dav1_ew_b, dav1_ud_b], [kerg_ns_b, kerg_ew_b, kerg_ud_b],
    [maw1_ns_b, maw1_ew_b, maw1_ud_b], [mcm4_ns_b, mcm4_ew_b, mcm4_ud_b], [ohig_ns_b, ohig_ew_b, ohig_ud_b],
    [palm_ns_b, palm_ew_b, palm_ud_b], [syog_ns_b, syog_ew_b, syog_ud_b], [vesl_ns_b, vesl_ew_b, vesl_ud_b],
]
outliers = [
    [cas1_ns_out, cas1_ew_out, cas1_ud_out], [dav1_ns_out, dav1_ew_out, dav1_ud_out],
    [kerg_ns_out, kerg_ew_out, kerg_ud_out], [maw1_ns_out, maw1_ew_out, maw1_ud_out],
    [mcm4_ns_out, mcm4_ew_out, mcm4_ud_out], [ohig_ns_out, ohig_ew_out, ohig_ud_out],
    [palm_ns_out, palm_ew_out, palm_ud_out], [syog_ns_out, syog_ew_out, syog_ud_out],
    [vesl_ns_out, vesl_ew_out, vesl_ud_out],
]

plt.rcParams['font.family'] = ['Liberation Sans', 'DejaVu Sans']
plt.rcParams['axes.unicode_minus'] = False

W, H = 1132, 1798
fig = plt.figure(figsize=(W / 100, H / 100), dpi=100)

# posicion de los paneles en pixeles
col_left = [62, 444, 821]
col_width = [292, 291, 292]
col_shift = [0, 3, -1]
row_top = [29, 221, 421, 617, 813, 1012, 1212, 1413, 1610]
ax_h = 146

months = 1998 + np.arange(72) / 12
mk = dict(ls='none', marker='o', ms=3.6, mfc='none', mec='#8c8c8c', mew=0.75, zorder=3)

for r, st in enumerate(stations):
    for c, comp in enumerate(components):
        top = row_top[r] + col_shift[c]
        ax = fig.add_axes([col_left[c] / W, 1 - (top + ax_h) / H, col_width[c] / W, ax_h / H])

        vals = np.array(series[r][c], dtype=float)
        ax.plot(months[:len(vals)] + 1 / 48, vals, **mk)
        vals_b = np.array(series_b[r][c], dtype=float)
        ax.plot(months[:len(vals_b)] + 3 / 48, vals_b, **mk)
        out = outliers[r][c]
        if out:
            ot, ov = zip(*out)
            ax.plot(ot, ov, **mk)

        # recta de tendencia
        rate = rates[r][c]
        y0 = line_1998[r][c]
        ax.plot([1998, 2004], [y0, y0 + rate / 10 * 6], color='black', lw=1.6, zorder=4)

        ax.text(0.955, 0.87, f"{rate:.2f} +/- {errors[r][c]:.2f} mm/yr", transform=ax.transAxes,
                ha='right', va='center', fontsize=9.3, zorder=2,
                bbox=dict(boxstyle='square,pad=0.45', fc='white', ec='none'))

        ax.set_xlim(1998, 2004)
        ax.set_ylim(-10, 10)
        ax.set_xticks(years)
        ax.set_yticks([-10, -5, 0, 5, 10])
        ax.grid(True, color='#505050', lw=0.9)
        ax.set_axisbelow(True)
        ax.tick_params(length=0, labelsize=10)
        ax.tick_params(axis='x', pad=4.5)
        ax.tick_params(axis='y', pad=3)
        for s in ax.spines.values():
            s.set_linewidth(2.0)
        ax.set_title(f"{st} {comp} component", fontsize=11.9, pad=4)
        ax.set_ylabel(f"{comp} component (cm)", fontsize=8.4)
        ax.yaxis.set_label_coords(-0.13, 0.5)
        if r == len(stations) - 1:
            ax.set_xlabel("year", fontsize=9.5, labelpad=6)

fig.savefig("out.png", dpi=100)
